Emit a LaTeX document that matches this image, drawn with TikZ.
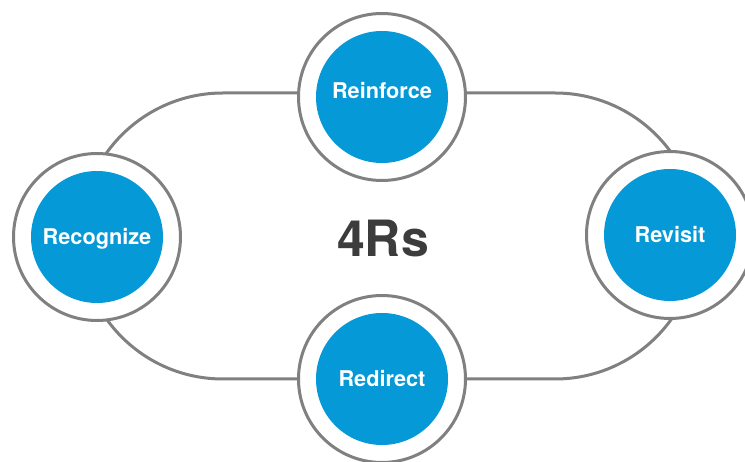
\documentclass[tikz,border=0pt]{standalone}
\usepackage{fontspec}
\setmainfont{TeX Gyre Heros}
\usepackage{tikz}
\definecolor{stageblue}{HTML}{0599D7}
\definecolor{ringgray}{HTML}{808083}
\definecolor{titlegray}{HTML}{3C3C3C}

\begin{document}
\begin{tikzpicture}[
  x=1pt, y=-1pt,
  track/.style={draw=ringgray, line width=3pt, rounded corners=142.9pt},
  ring/.style={circle, draw=ringgray, line width=3pt, fill=white, minimum size=167pt, inner sep=0pt},
  stage/.style={circle, fill=stageblue, text=white, minimum size=132pt, inner sep=0pt,
                text height=15.6pt, text depth=0pt, font=\fontsize{21.7}{24}\selectfont\bfseries},
  title/.style={text=titlegray, font=\fontsize{50}{56}\selectfont\bfseries}
]
\useasboundingbox (0,0) rectangle (745,462);
% the loop behind the four stages
\coordinate (trackNW) at (80,93);
\coordinate (trackSE) at (698,379);
\draw[track] (trackNW) rectangle (trackSE);

\node[ring] (reinforceRing) at (382,97) {};
\node[ring] (recognizeRing) at (97,237) {};
\node[ring] (revisitRing) at (670,235) {};
\node[ring] (redirectRing) at (382,379) {};

\node[stage, text depth=12pt] (reinforce) at (reinforceRing) {Reinforce};
\node[stage] (recognize) at (recognizeRing) {Recognize};
\node[stage] (revisit) at (revisitRing) {Revisit};
\node[stage] (redirect) at (redirectRing) {Redirect};

\node[title] (fourRs) at (383,239) {4Rs};
\end{tikzpicture}
\end{document}
